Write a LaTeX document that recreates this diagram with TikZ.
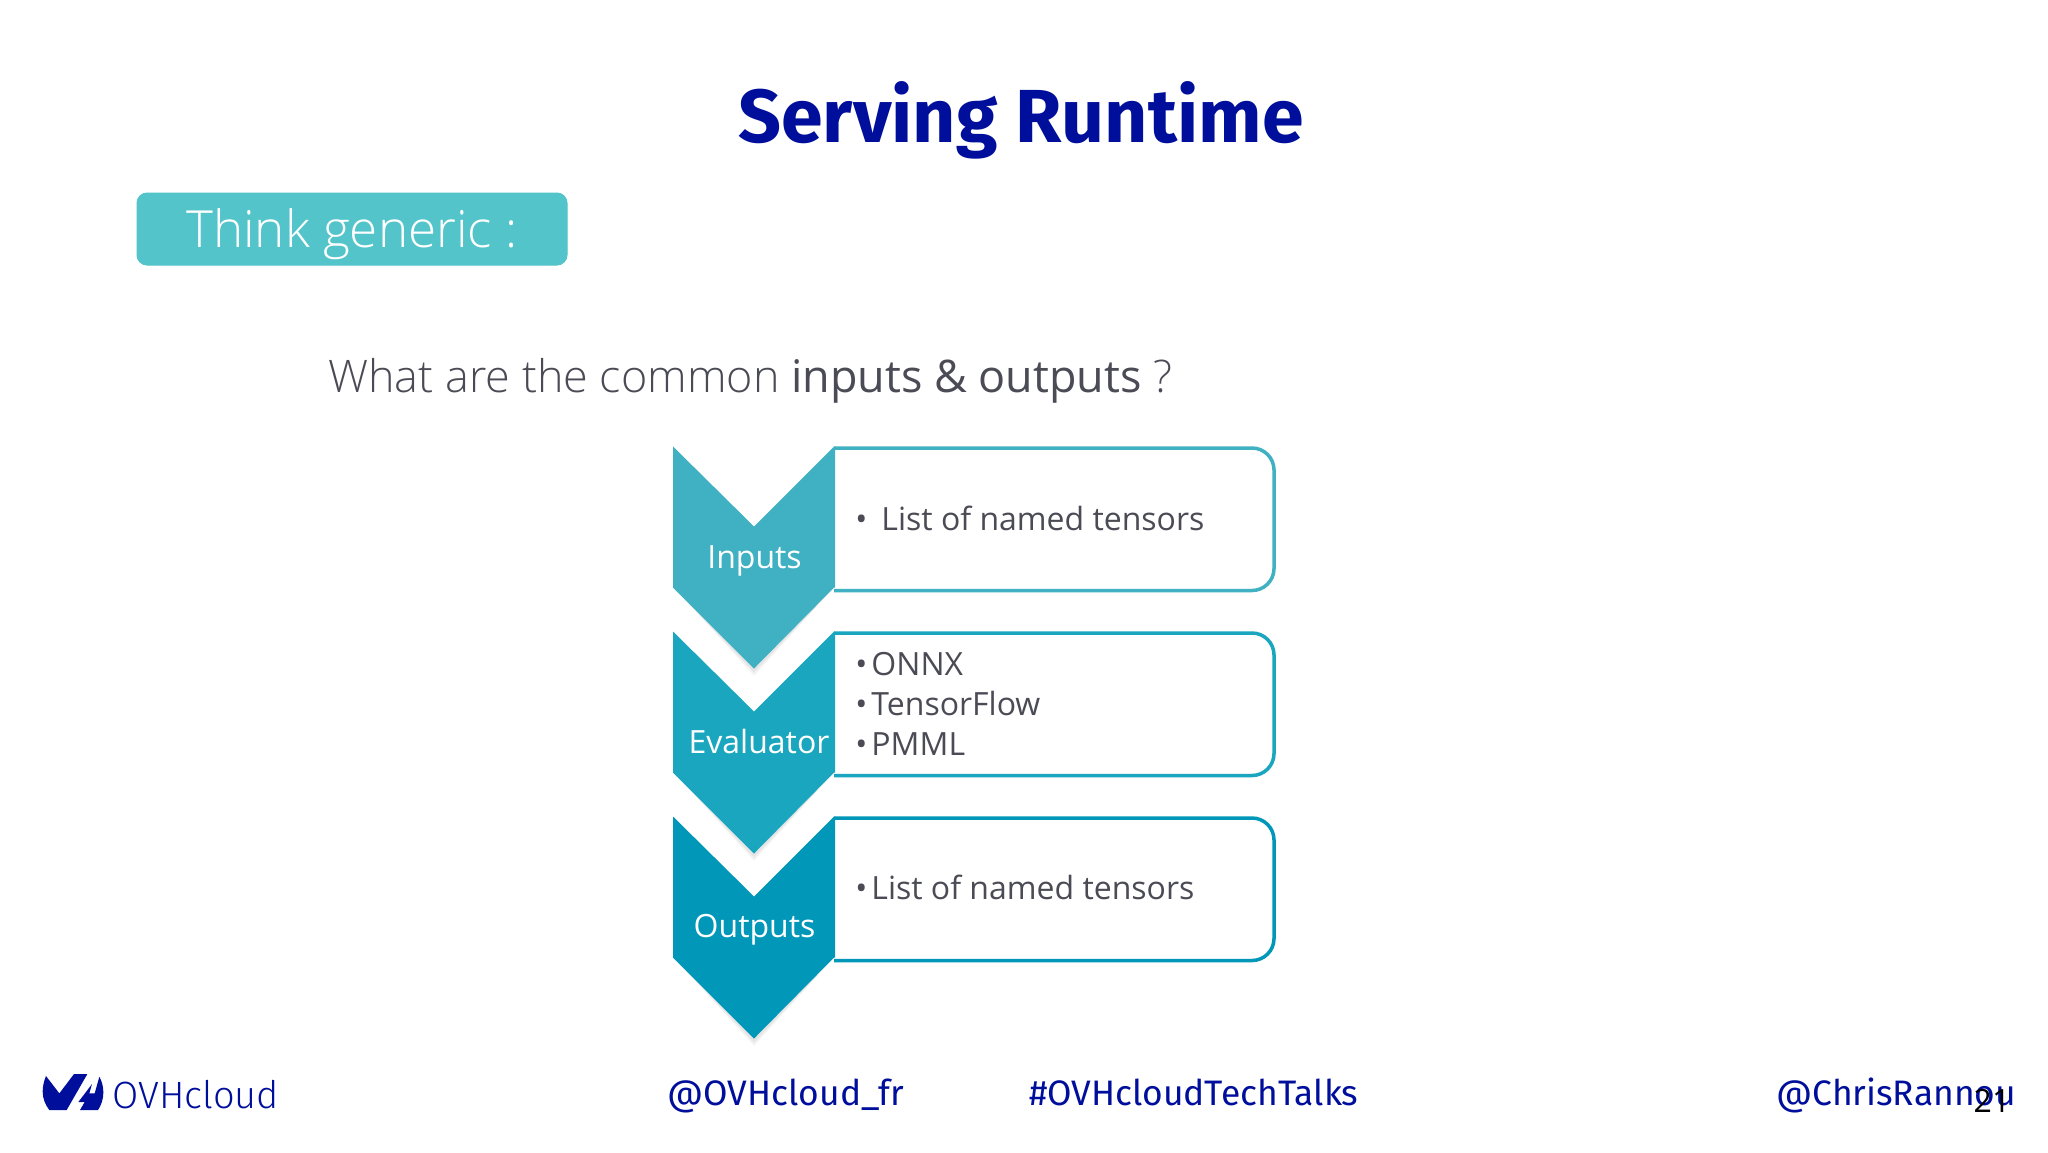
\documentclass[tikz,border=0pt]{standalone}
\usepackage{fontspec}
\setmainfont{Open Sans}
\newfontfamily\oslight{Open Sans Light}
\newfontfamily\foot{Fira Sans}
\newfontfamily\logofont{Fira Sans Light}
\newfontfamily\titlefont{Fira Sans}
\definecolor{navy}{HTML}{000E9C}
\definecolor{rowa}{HTML}{3FB1C3}
\definecolor{rowb}{HTML}{19A6BE}
\definecolor{rowc}{HTML}{0097B8}
\definecolor{teal}{HTML}{52C4CA}
\definecolor{grayt}{HTML}{4B4B55}
\newcommand{\fs}[1]{\fontsize{#1}{#1}\selectfont}
\tikzset{
  px/.style={x=0.5pt,y=-0.5pt},
  itemtext/.style={anchor=base west,inner sep=0pt,text=grayt,font=\fs{16}},
  chevlabel/.style={anchor=base,inner sep=0pt,text=white,font=\fs{16}},
  foottext/.style={anchor=base west,inner sep=0pt,text=navy,font=\foot\fs{17.7}},
}
\newcommand{\row}[2]{%
  \begin{scope}[shift={(-3,#1)}]
    \fill[black,opacity=.05] (677,590) -- (757,678) -- (837,590) -- cycle;
    \fill[black,opacity=.05] (677,590) -- (757,675) -- (837,590) -- cycle;
    \draw[#2,line width=1.75pt,fill=white,rounded corners=11pt]
      (837,450.5) -- (1277,450.5) -- (1277,593) -- (837,593);
    \fill[#2] (676,449) -- (757,529) -- (837,449) -- (838,449) -- (838,590) -- (837,590) -- (757,671) -- (676,590) -- cycle;
  \end{scope}}
\begin{document}
\begin{tikzpicture}[px]
\useasboundingbox (0,0) rectangle (2048,1152);
\fill[white] (0,0) rectangle (2048,1152);
\node[inner sep=0pt,text=navy,font=\titlefont\bfseries\fs{37.6}] (title) at (1021,120) {Serving Runtime};
\node[draw=teal,fill=teal,rounded corners=5pt,minimum width=215pt,minimum height=36pt,inner sep=0pt,line width=0.5pt] (think) at (352,229) {};
\node[inner sep=0pt,text=white,font=\oslight\fs{25.6}] (thinkt) at (352,234) {Think generic :};
\node[anchor=base west,inner sep=0pt,text=grayt,font=\oslight\fs{22.45}] (question) at (328,392) {What are the common {\fontspec{Open Sans}inputs \& outputs} ?};
\row{-2.5}{rowa}
\row{182.5}{rowb}
\row{367.5}{rowc}
\node[chevlabel] (inputs) at (754.5,568) {Inputs};
\node[chevlabel] (evaluator) at (759,753) {Evaluator};
\node[chevlabel] (outputs) at (754.5,937) {Outputs};
\node[itemtext] (l1) at (855,530) {•\hspace{7pt}List of named tensors};
\node[itemtext] (l2) at (855,675) {•\hspace{2pt}ONNX};
\node[itemtext] (l3) at (855,715) {•\hspace{2pt}TensorFlow};
\node[itemtext] (l4) at (855,755) {•\hspace{2pt}PMML};
\node[itemtext] (l5) at (855,899) {•\hspace{2pt}List of named tensors};
\begin{scope}[shift={(0,1050)},x=0.1667pt,y=-0.1667pt]
  \fill[navy] (138,78) -- (178,130) -- (222,72) -- (262,72) -- (200,180) -- (148,180)
    .. controls (136,165) and (128,145) .. (128,125) .. controls (128,108) and (132,92) .. (138,78) -- cycle;
  \fill[navy] (298,80) .. controls (306,95) and (310,110) .. (310,127) .. controls (310,147) and (304,165) .. (294,180)
    -- (240,180) -- (254,156) -- (235,156) -- (276,102) -- (268,130) -- (284,130) -- cycle;
\end{scope}
\node[anchor=base west,inner sep=0pt,text=navy,font=\logofont\fs{19}] (logo) at (112,1108) {OVHcloud};
\node[foottext] (f1) at (667,1105) {@OVHcloud\_fr};
\node[foottext] (f2) at (1029,1105) {\#OVHcloudTechTalks};
\node[foottext] (f3) at (1776,1105) {@ChrisRannou};
\node[anchor=base,inner sep=0pt,text=black,font=\fs{16}] (pg) at (1992,1112) {21};
\end{tikzpicture}
\end{document}
